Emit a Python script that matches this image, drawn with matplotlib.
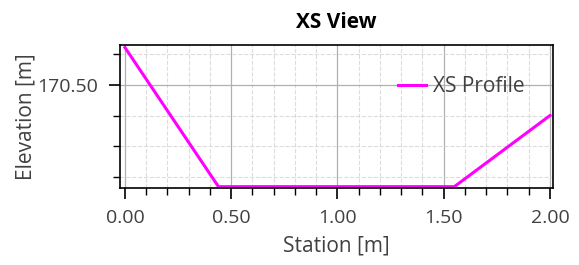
import matplotlib.pyplot as plt
from matplotlib.ticker import MultipleLocator, FormatStrFormatter

plt.rcParams['font.family'] = ['Open Sans', 'DejaVu Sans']

# cross-section profile
station = [0.0, 0.44, 1.55, 2.0]
elevation = [170.62, 170.17, 170.17, 170.40]

fig = plt.figure(figsize=(5.79, 2.65), dpi=100)
ax = fig.add_axes([0.207, 0.291, 0.748, 0.539])

ax.plot(station, elevation, color='#ff00ff', lw=2.2, label='XS Profile')

ax.set_xlim(-0.024, 2.014)
ax.set_ylim(170.166, 170.628)

ax.xaxis.set_major_locator(MultipleLocator(0.5))
ax.xaxis.set_minor_locator(MultipleLocator(0.1))
ax.yaxis.set_major_locator(MultipleLocator(0.5))
ax.yaxis.set_minor_locator(MultipleLocator(0.1))
ax.xaxis.set_major_formatter(FormatStrFormatter('%.2f'))
ax.yaxis.set_major_formatter(FormatStrFormatter('%.2f'))

ax.grid(which='major', color='#b0b0b0', lw=0.9, ls='-')
ax.grid(which='minor', color='#dcdcdc', lw=0.8, ls='--')
ax.set_axisbelow(True)

ax.tick_params(which='major', length=8, width=1.2, labelsize=14, labelcolor='#404040')
ax.tick_params(which='minor', length=5, width=1.0)
ax.tick_params(axis='x', which='major', pad=7)
ax.tick_params(axis='y', which='major', pad=8)
for s in ax.spines.values():
    s.set_linewidth(1.2)

ax.set_title('XS View', fontsize=15, fontweight='bold', pad=12)
ax.set_xlabel('Station [m]', fontsize=15, color='#404040', labelpad=6)
ax.set_ylabel('Elevation [m]', fontsize=15, color='#404040', labelpad=0)

ax.legend(loc='center left', bbox_to_anchor=(0.6, 0.71), frameon=False,
          fontsize=15, handlelength=1.3, handletextpad=0.35, labelcolor='#404040')

fig.savefig('out.png', dpi=100)
